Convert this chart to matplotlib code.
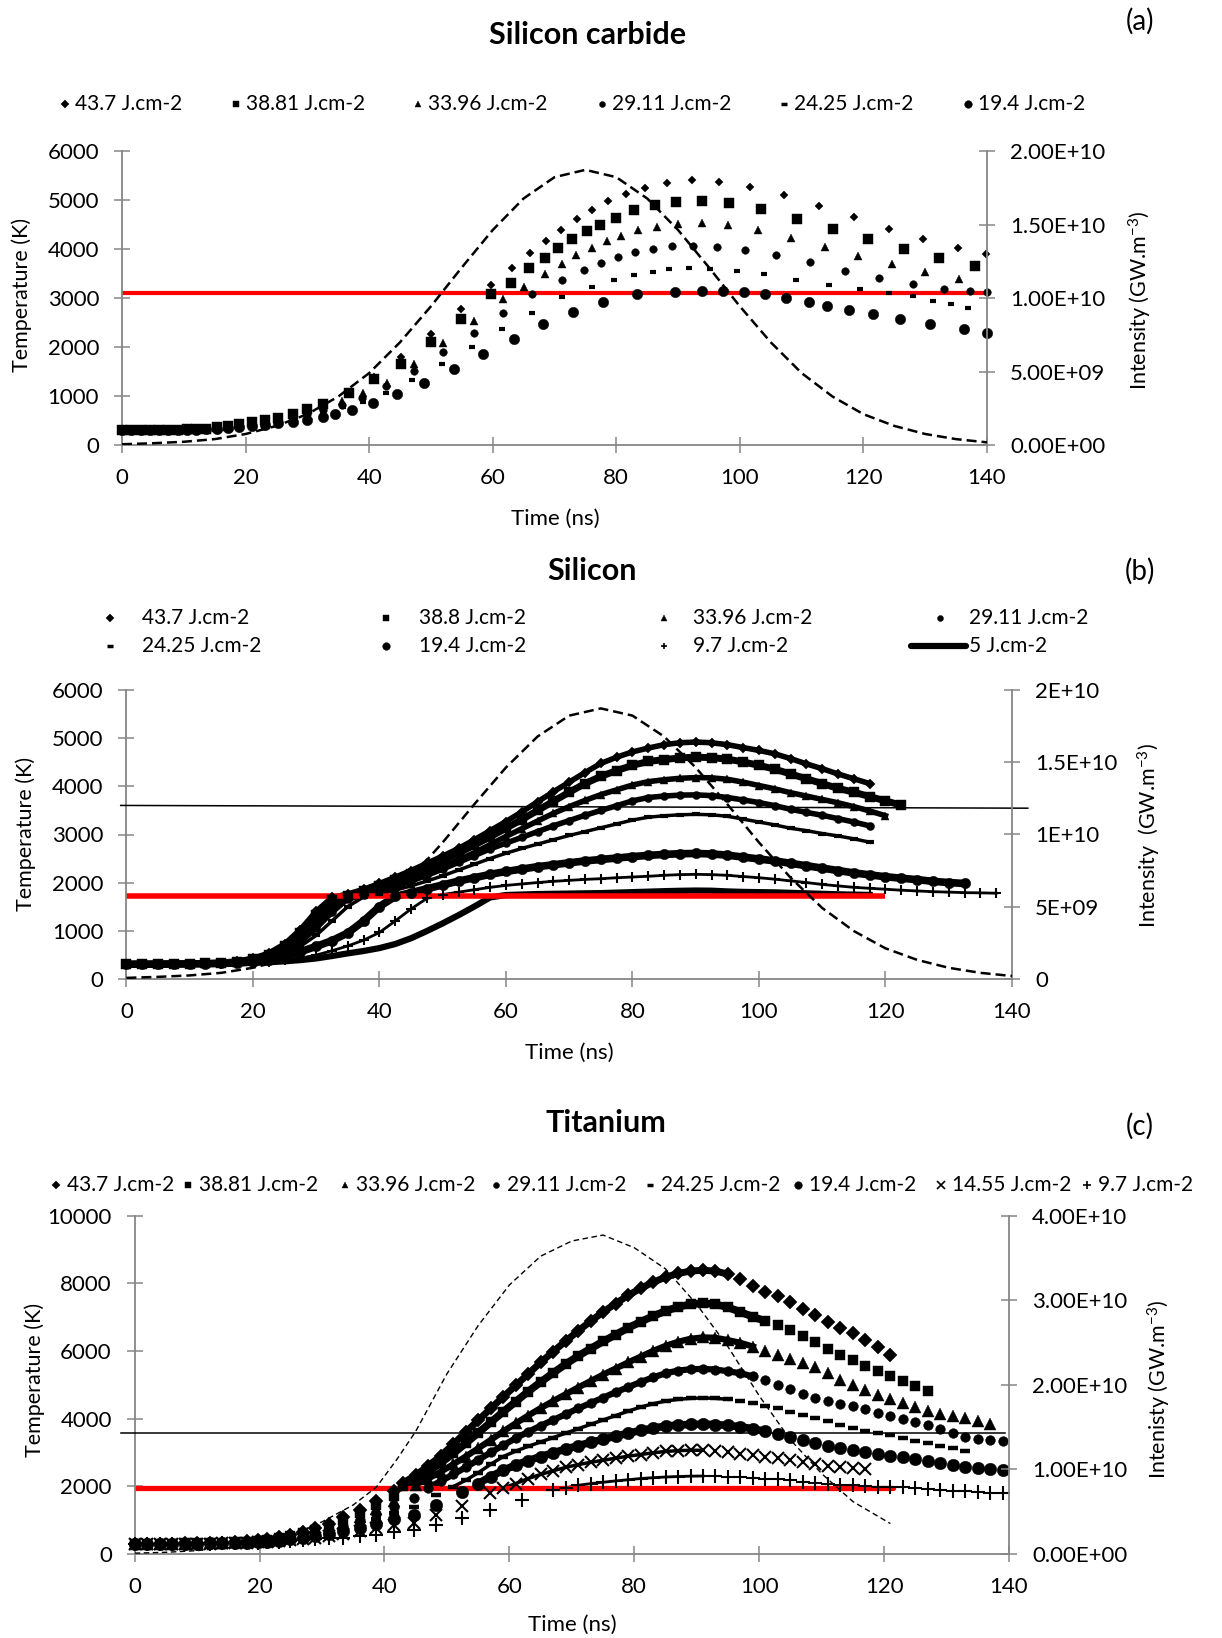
import matplotlib
matplotlib.use("Agg")
import matplotlib.pyplot as plt
import numpy as np
from matplotlib.lines import Line2D
from matplotlib.ticker import FixedLocator, FixedFormatter

plt.rcParams["font.family"] = ["Lato", "DejaVu Sans"]
plt.rcParams["mathtext.default"] = "regular"

W, H = 1222, 1638
GREY = "#868686"
RED = "#ff0000"

x_ticks = [0, 20, 40, 60, 80, 100, 120, 140]
fluence_labels = ["43.7 J.cm-2", "38.81 J.cm-2", "33.96 J.cm-2", "29.11 J.cm-2",
                  "24.25 J.cm-2", "19.4 J.cm-2", "14.55 J.cm-2", "9.7 J.cm-2"]
b_labels = ["43.7 J.cm-2", "38.8 J.cm-2", "33.96 J.cm-2", "29.11 J.cm-2",
            "24.25 J.cm-2", "19.4 J.cm-2", "9.7 J.cm-2", "5 J.cm-2"]

# laser pulse intensity (x1e10 GW.m-3), same pulse for SiC and Si
pulse_t = [0, 5, 10, 15, 20, 25, 30, 35, 40, 45, 50, 55, 60, 65, 70, 75,
           80, 85, 90, 95, 100, 105, 110, 115, 120, 125, 130, 135, 140]
pulse_si = [0.005, 0.012, 0.022, 0.040, 0.075, 0.13, 0.21, 0.33, 0.49, 0.70, 0.945, 1.21, 1.465, 1.68, 1.825, 1.875,
            1.825, 1.68, 1.465, 1.21, 0.945, 0.70, 0.49, 0.33, 0.21, 0.13, 0.075, 0.040, 0.018]
# titanium pulse
pulse_ti_t = [0, 5, 10, 15, 20, 25, 30, 35, 38.7, 42, 45, 50, 55, 60, 65, 70, 75,
              80, 85, 90, 95, 100, 105, 110, 115, 121]
pulse_ti = [0.01, 0.02, 0.04, 0.075, 0.13, 0.22, 0.38, 0.58, 0.79, 1.12, 1.45, 2.13, 2.70, 3.18, 3.52, 3.70, 3.77,
            3.62, 3.37, 2.95, 2.45, 1.87, 1.35, 0.95, 0.62, 0.36]

# ---------------- (a) silicon carbide ----------------
a_melt = 3100
a_yticks = [0, 1000, 2000, 3000, 4000, 5000, 6000]
a_rticks = [0, 5e9, 1e10, 1.5e10, 2e10]
a_rlabels = ["0.00E+00", "5.00E+09", "1.00E+10", "1.50E+10", "2.00E+10"]
a_t_early = [0, 1.5, 3, 4.5, 6, 7.5, 9, 10.5, 12, 13.6, 15.3, 17.1, 19, 21, 23.1, 25.3, 27.6, 30, 32.5]

a_d_early = [300, 301, 302, 304, 306, 309, 313, 318, 326, 337, 362, 398, 438, 478, 515, 560, 650, 750, 860]
a_d_t = [36.8, 40.8, 45.2, 50.0, 54.9, 59.7, 63.1, 66.1, 68.6, 71.1, 73.6, 76.1, 78.7, 81.5, 84.6, 88.2,
         92.2, 96.6, 101.6, 107.2, 112.8, 118.5, 124.1, 129.7, 135.3, 139.8]
a_d_T = [1080, 1400, 1793, 2270, 2782, 3273, 3627, 3920, 4173, 4398, 4616, 4814, 4984, 5134, 5264, 5366,
         5414, 5386, 5277, 5107, 4882, 4657, 4418, 4220, 4036, 3913]

a_s_early = [300, 301, 302, 304, 306, 309, 313, 318, 325, 335, 358, 392, 430, 470, 506, 548, 635, 735, 845]
a_s_t = [36.8, 40.8, 45.2, 50.0, 54.9, 59.7, 62.9, 65.9, 68.4, 70.6, 72.9, 75.2, 77.4, 80.0, 82.9, 86.2,
         89.7, 93.8, 98.3, 103.5, 109.2, 115.0, 120.7, 126.5, 132.2, 138.0]
a_s_T = [1060, 1343, 1657, 2107, 2570, 3082, 3320, 3614, 3818, 4023, 4207, 4377, 4507, 4650, 4800, 4902,
         4970, 4984, 4943, 4820, 4630, 4418, 4207, 4009, 3825, 3654]

a_tri_early = [300, 301, 302, 303, 305, 308, 312, 316, 322, 331, 350, 380, 415, 452, 488, 528, 600, 690, 790]
a_tri_t = [35.6, 39.0, 42.9, 47.2, 52.0, 56.9, 61.7, 65.1, 68.4, 71.2, 73.5, 76.0, 78.5, 80.8, 83.5, 86.6,
           90.0, 93.8, 98.1, 102.9, 108.3, 113.7, 119.2, 124.6, 130.0, 135.4]
a_tri_T = [900, 1057, 1261, 1657, 2093, 2536, 2980, 3239, 3491, 3702, 3880, 4036, 4180, 4275, 4391, 4466,
           4514, 4534, 4493, 4398, 4234, 4057, 3873, 3695, 3545, 3395]

a_c_early = [300, 300, 301, 303, 305, 307, 310, 314, 319, 327, 343, 368, 400, 433, 465, 500, 560, 640, 725]
a_c_t = [35.6, 38.9, 42.7, 47.2, 52.0, 56.9, 61.7, 66.4, 71.2, 74.8, 77.5, 80.3, 83.1, 85.9, 89.0, 92.4,
         96.3, 100.8, 105.8, 111.4, 117.0, 122.5, 128.1, 133.1, 137.3, 140.0]
a_c_T = [820, 960, 1207, 1520, 1895, 2298, 2700, 3095, 3368, 3573, 3723, 3845, 3941, 4016, 4064, 4077,
         4057, 3995, 3880, 3736, 3566, 3423, 3286, 3191, 3150, 3123]

a_dash_early = [300, 300, 301, 302, 304, 306, 309, 312, 317, 324, 337, 358, 385, 415, 445, 478, 525, 590, 665]
a_dash_t = [35.8, 39.0, 42.7, 47.0, 51.8, 56.7, 61.5, 66.3, 71.2, 76.1, 79.7, 82.9, 85.9, 88.6, 91.8, 95.2,
            99.5, 103.9, 109.1, 114.4, 119.4, 124.1, 128.1, 131.2, 134.2, 136.9]
a_dash_T = [770, 873, 1070, 1330, 1657, 1998, 2366, 2707, 3034, 3239, 3382, 3484, 3539, 3593, 3620, 3593,
            3566, 3491, 3382, 3280, 3191, 3116, 3055, 2952, 2884, 2809]

a_bc_early = [300, 300, 301, 302, 303, 305, 307, 310, 314, 320, 331, 348, 370, 393, 418, 443, 475, 520, 575]
a_bc_t = [34.5, 37.3, 40.7, 44.5, 48.9, 53.7, 58.5, 63.5, 68.2, 73.0, 77.9, 83.3, 89.5, 93.9, 97.3, 100.7,
          104.1, 107.5, 111.2, 114.1, 117.6, 121.5, 125.9, 130.8, 136.3, 140.0]
a_bc_T = [634, 716, 852, 1036, 1261, 1561, 1855, 2168, 2468, 2720, 2918, 3082, 3130, 3157, 3150, 3123,
          3089, 3014, 2925, 2843, 2761, 2673, 2570, 2468, 2366, 2298]

# ---------------- (b) silicon (2.5 ns steps from t = 0) ----------------
b_melt = 1710
b_boil = [3605, 3548]
b_boil_t = [-0.9, 142.5]
b_rticks = [0, 5e9, 1e10, 1.5e10, 2e10]
b_rlabels = ["0", "5E+09", "1E+10", "1.5E+10", "2E+10"]
b_d = [300, 300, 302, 305, 310, 318, 330, 360, 420, 530, 720, 1020, 1400, 1690, 1760, 1860, 1980, 2110, 2250,
       2400, 2550, 2710, 2890, 3080, 3270, 3470, 3680, 3890, 4090, 4290, 4480, 4610, 4720, 4800, 4870, 4910,
       4925, 4910, 4870, 4810, 4750, 4680, 4580, 4470, 4370, 4260, 4160, 4060]
b_s = [300, 300, 302, 305, 309, 316, 327, 352, 405, 500, 670, 950, 1320, 1640, 1730, 1820, 1930, 2050, 2180,
       2320, 2460, 2610, 2780, 2950, 3130, 3310, 3500, 3690, 3880, 4060, 4210, 4330, 4440, 4520, 4560, 4595,
       4610, 4600, 4570, 4510, 4440, 4360, 4260, 4160, 4060, 3960, 3880, 3790, 3700, 3610]
b_tri = [300, 300, 301, 304, 308, 314, 324, 345, 390, 470, 610, 850, 1180, 1530, 1710, 1790, 1880, 1980, 2090,
         2210, 2340, 2470, 2620, 2790, 2960, 3120, 3280, 3440, 3580, 3710, 3830, 3930, 4030, 4100, 4140, 4170,
         4185, 4180, 4150, 4090, 4020, 3950, 3870, 3800, 3730, 3660, 3580, 3490, 3390]
b_c = [300, 300, 301, 303, 307, 312, 321, 338, 375, 440, 560, 760, 1050, 1380, 1660, 1740, 1820, 1920, 2030,
       2150, 2280, 2420, 2560, 2700, 2820, 2940, 3060, 3180, 3290, 3400, 3500, 3600, 3700, 3770, 3800, 3820,
       3825, 3810, 3770, 3720, 3665, 3600, 3525, 3460, 3400, 3330, 3260, 3180]
b_dash = [300, 300, 301, 303, 306, 310, 318, 332, 362, 415, 510, 670, 900, 1200, 1500, 1700, 1760, 1840, 1930,
          2030, 2140, 2260, 2380, 2500, 2610, 2710, 2800, 2890, 2980, 3060, 3140, 3220, 3300, 3360, 3390, 3410,
          3420, 3410, 3380, 3320, 3260, 3200, 3130, 3080, 3020, 2970, 2910, 2840]
b_bc = [300, 300, 300, 302, 305, 309, 315, 327, 350, 395, 465, 560, 670, 790, 950, 1200, 1500, 1710, 1790,
        1870, 1950, 2030, 2100, 2170, 2230, 2280, 2330, 2370, 2410, 2450, 2480, 2510, 2540, 2565, 2585, 2600,
        2605, 2595, 2570, 2530, 2490, 2450, 2400, 2350, 2300, 2250, 2200, 2160, 2120, 2090, 2060, 2025, 2000, 1980]
b_plus = [300, 300, 300, 301, 303, 306, 310, 318, 330, 350, 380, 425, 490, 580, 680, 800, 960, 1200, 1450,
          1670, 1750, 1800, 1850, 1900, 1940, 1970, 2000, 2025, 2045, 2065, 2080, 2100, 2115, 2130, 2150, 2165,
          2170, 2165, 2150, 2125, 2100, 2070, 2035, 2000, 1960, 1930, 1900, 1880, 1860, 1840, 1825, 1810, 1800,
          1790, 1785, 1778]
b_line5 = [300, 305, 308, 310, 312, 315, 318, 320, 325, 340, 360, 385, 420, 470, 525, 575, 635, 720, 840,
           990, 1150, 1320, 1500, 1690, 1740, 1750, 1760, 1765, 1770, 1775, 1780, 1790, 1800, 1810, 1820, 1828,
           1833, 1830, 1815, 1805, 1800, 1795, 1785, 1775, 1765, 1755, 1748, 1742]

# ---------------- (c) titanium ----------------
c_melt = 1941
c_melt_t = [0, 121.5]
c_boil = 3575
c_boil_t = [-2.2, 139.4]
c_yticks = [0, 2000, 4000, 6000, 8000, 10000]
c_rticks = [0, 1e10, 2e10, 3e10, 4e10]
c_rlabels = ["0.00E+00", "1.00E+10", "2.00E+10", "3.00E+10", "4.00E+10"]
c_t_early = [0, 2, 4, 6, 8, 10, 12, 14, 16, 18, 19.8, 21.2, 23.1, 24.9, 26.9, 28.8, 31.1, 33.3, 36.0, 38.7, 41.5]

c_d_early = [300, 302, 305, 308, 312, 318, 326, 337, 352, 372, 400, 440, 500, 570, 660, 760, 900, 1090, 1310, 1555, 1850]
c_d_start = 43
c_d = [2100, 2330, 2600, 2900, 3240, 3600, 3950, 4300, 4640, 4980, 5320, 5660, 5980, 6290, 6590, 6880, 7150,
       7400, 7640, 7850, 8030, 8180, 8290, 8360, 8385, 8360, 8270, 8120, 7930, 7750, 7610, 7440, 7240, 7050,
       6870, 6690, 6520, 6330, 6110, 5880]

c_s_early = [300, 302, 304, 307, 311, 316, 323, 333, 346, 364, 390, 425, 475, 540, 620, 710, 830, 1000, 1210, 1440, 1720]
c_s_start = 43
c_s = [2000, 2200, 2430, 2690, 2970, 3270, 3580, 3890, 4200, 4500, 4800, 5080, 5350, 5610, 5850, 6070, 6280,
       6480, 6680, 6860, 7030, 7180, 7300, 7380, 7410, 7380, 7290, 7150, 7010, 6880, 6760, 6610, 6440, 6260,
       6060, 5890, 5740, 5570, 5410, 5260, 5110, 4970, 4830]

c_tri_early = [300, 301, 304, 306, 310, 314, 320, 329, 341, 357, 380, 410, 455, 510, 580, 660, 760, 910, 1100, 1320, 1580]
c_tri_start = 45
c_tri = [2050, 2230, 2430, 2650, 2880, 3120, 3370, 3620, 3860, 4090, 4310, 4520, 4720, 4920, 5110, 5300, 5480,
         5660, 5830, 6000, 6150, 6270, 6360, 6400, 6390, 6320, 6240, 6130, 6010, 5890, 5770, 5650, 5520, 5340,
         5150, 4990, 4840, 4700, 4580, 4450, 4330, 4230, 4150, 4090, 4020, 3930, 3850]

c_c_early = [300, 301, 303, 305, 308, 312, 317, 325, 335, 349, 370, 395, 435, 480, 540, 610, 700, 830, 990, 1180, 1400]
c_c_sparse_t = [44.7]
c_c_sparse_T = [1650]
c_c_start = 47
c_c = [1960, 2150, 2350, 2560, 2780, 3000, 3210, 3420, 3610, 3790, 3960, 4130, 4300, 4460, 4620, 4780, 4930,
       5080, 5220, 5340, 5420, 5460, 5470, 5450, 5400, 5340, 5250, 5130, 5000, 4870, 4740, 4620, 4520, 4440,
       4360, 4280, 4180, 4070, 3990, 3900, 3800, 3690, 3580, 3470, 3400, 3360, 3330]

c_dash_early = [300, 301, 303, 305, 307, 311, 315, 322, 331, 343, 360, 380, 415, 455, 505, 565, 640, 750, 880, 1030, 1200]
c_dash_sparse_t = [44.7, 48.3]
c_dash_sparse_T = [1400, 1745]
c_dash_start = 51
c_dash = [1990, 2180, 2400, 2650, 2880, 3040, 3180, 3310, 3440, 3570, 3700, 3830, 3960, 4090, 4220, 4340,
          4440, 4520, 4570, 4600, 4610, 4600, 4570, 4520, 4460, 4380, 4300, 4210, 4120, 4030, 3920, 3810,
          3710, 3640, 3570, 3510, 3430, 3340, 3270, 3190, 3120, 3040]

c_bc_early = [300, 301, 302, 304, 306, 309, 313, 319, 327, 338, 350, 368, 395, 430, 470, 520, 580, 670, 780, 900, 1030]
c_bc_sparse_t = [44.7, 48.3, 52.4]
c_bc_sparse_T = [1153, 1449, 1843]
c_bc_start = 55
c_bc = [2080, 2290, 2470, 2630, 2760, 2880, 2990, 3100, 3200, 3300, 3390, 3480, 3570, 3650, 3720, 3780, 3810,
        3830, 3835, 3825, 3800, 3760, 3700, 3620, 3540, 3460, 3380, 3290, 3200, 3130, 3070, 3020, 2960, 2910,
        2860, 2810, 2760, 2700, 2640, 2580, 2530, 2500, 2470]

c_x_early = [300, 300, 302, 303, 305, 307, 310, 315, 321, 330, 340, 355, 375, 405, 440, 480, 525, 590, 670, 760, 850]
c_x_sparse_t = [44.7, 48.3, 52.4, 56.9]
c_x_sparse_T = [907, 1153, 1419, 1794]
c_x_start = 59
c_x = [1950, 2080, 2230, 2350, 2460, 2560, 2640, 2710, 2770, 2830, 2890, 2940, 2990, 3030, 3055, 3065, 3065,
       3050, 3010, 2960, 2920, 2880, 2840, 2780, 2720, 2660, 2610, 2570, 2540, 2510]

c_plus_early = [300, 300, 301, 302, 303, 305, 308, 312, 317, 325, 335, 344, 360, 385, 410, 435, 460, 485, 522, 571, 640]
c_plus_sparse_t = [44.7, 48.3, 52.4, 56.9, 62.0, 67.0]
c_plus_sparse_T = [718, 866, 1063, 1301, 1597, 1880]
c_plus_start = 69
c_plus = [1960, 2030, 2080, 2120, 2160, 2195, 2230, 2255, 2275, 2290, 2300, 2305, 2300, 2290, 2275, 2255, 2230,
          2205, 2175, 2140, 2100, 2070, 2050, 2030, 2005, 1985, 1975, 1970, 1940, 1910, 1890, 1870, 1850, 1830,
          1805, 1790]

# ---------------- figure ----------------
fig = plt.figure(figsize=(W / 100, H / 100), dpi=100)


def axes_px(x0, y0, x1, y1):
    return fig.add_axes([x0 / W, 1 - y1 / H, (x1 - x0) / W, (y1 - y0) / H])


def ftext(x, y, s, **kw):
    kw.setdefault("ha", "center")
    kw.setdefault("va", "center")
    fig.text(x / W, 1 - y / H, s, **kw)


def style(ax, ax2, ymax, yticks, rmax, rticks, rlabels):
    ax.set_xlim(0, 140)
    ax.set_ylim(0, ymax)
    ax.set_xticks(x_ticks)
    ax.set_yticks(yticks)
    for s in ["top", "right"]:
        ax.spines[s].set_visible(False)
    for s in ["left", "bottom"]:
        ax.spines[s].set_color(GREY)
        ax.spines[s].set_linewidth(1.3)
    ax.tick_params(direction="inout", length=11, width=1.1, color=GREY, labelsize=16, pad=11)
    ax2.set_ylim(0, rmax)
    ax2.yaxis.set_major_locator(FixedLocator(rticks))
    ax2.yaxis.set_major_formatter(FixedFormatter(rlabels))
    for s in ["top", "left", "bottom"]:
        ax2.spines[s].set_visible(False)
    ax2.spines["right"].set_color(GREY)
    ax2.spines["right"].set_linewidth(1.3)
    ax2.tick_params(direction="inout", length=11, width=1.1, color=GREY, labelsize=16, pad=11)


def marks(ax, t, T, mk, z=3):
    ax.plot(t, T, ls="none", color="black", mec="black", zorder=z, clip_on=False, **mk)


def legend_mark(x, y, mk):
    fig.add_artist(Line2D([x / W], [1 - y / H], transform=fig.transFigure, ls="none",
                          color="black", mec="black", **mk))


# marker styles
mk_d = dict(marker="D", mew=0.3)
mk_s = dict(marker="s", mew=0.3)
mk_t = dict(marker="^", mew=0.3)
mk_c = dict(marker="o", mew=0.3)
mk_dash = dict(marker="_")
mk_x = dict(marker="x")
mk_p = dict(marker="+")

# ===== (a) =====
ax_a = axes_px(122, 151.5, 987, 445)
ax_a2 = ax_a.twinx()
style(ax_a, ax_a2, 6000, a_yticks, 2e10, a_rticks, a_rlabels)
ax_a.plot([0, 140], [a_melt, a_melt], color=RED, lw=3, zorder=2.5, solid_capstyle="butt")
for early, tl, Tl, mk in [
    (a_d_early, a_d_t, a_d_T, dict(mk_d, ms=4.5)),
    (a_s_early, a_s_t, a_s_T, dict(mk_s, ms=6.5)),
    (a_tri_early, a_tri_t, a_tri_T, dict(mk_t, ms=5.8)),
    (a_c_early, a_c_t, a_c_T, dict(mk_c, ms=5.5)),
    (a_dash_early, a_dash_t, a_dash_T, dict(mk_dash, ms=5, mew=3)),
    (a_bc_early, a_bc_t, a_bc_T, dict(mk_c, ms=7.5)),
]:
    marks(ax_a, a_t_early + tl, early + Tl, mk)
ax_a2.plot(pulse_t, np.array(pulse_si) * 1e10, color="black", lw=1.8, ls=(0, (4, 2)), zorder=4)

ftext(588, 34.5, "Silicon carbide", fontsize=22, fontweight="bold")
ftext(1140, 21, "(a)", fontsize=20)
ftext(22, 295, "Temperature (K)", fontsize=15.5, rotation=90)
ftext(1140, 300, "Intensity (GW.m$^{-3}$)", fontsize=15.5, rotation=90)
ftext(555, 519, "Time (ns)", fontsize=16)
a_leg_x = [65, 236, 418, 602, 784, 968]
a_leg_mk = [dict(mk_d, ms=3.6), dict(mk_s, ms=5), dict(mk_t, ms=4.5), dict(mk_c, ms=4.3),
            dict(mk_dash, ms=4, mew=2.5), dict(mk_c, ms=5.5)]
for x, mk, lab in zip(a_leg_x, a_leg_mk, fluence_labels[:6]):
    legend_mark(x, 104, mk)
    ftext(x + 10, 104, lab, fontsize=15, ha="left")

# ===== (b) =====
ax_b = axes_px(126.4, 690.4, 1012, 978.6)
ax_b2 = ax_b.twinx()
style(ax_b, ax_b2, 6000, a_yticks, 2e10, b_rticks, b_rlabels)
ax_b.plot([0, 120], [b_melt, b_melt], color=RED, lw=4, zorder=2.5, solid_capstyle="butt")
ax_b.plot(b_boil_t, b_boil, color="black", lw=1.1, zorder=4, clip_on=False)
for vals, mk, lw in [
    (b_d, dict(mk_d, ms=5.2), 4.0),
    (b_s, dict(mk_s, ms=6.5), 5.0),
    (b_tri, dict(mk_t, ms=6.2), 4.0),
    (b_c, dict(mk_c, ms=5.8), 4.0),
    (b_dash, dict(mk_dash, ms=5.5, mew=3), 2.5),
    (b_bc, dict(mk_c, ms=7.5), 5.5),
    (b_plus, dict(mk_p, ms=7, mew=1.5), 2.0),
]:
    tb = 2.5 * np.arange(len(vals))
    ax_b.plot(tb, vals, color="black", lw=lw, zorder=2)
    marks(ax_b, tb, vals, mk)
ax_b.plot(2.5 * np.arange(len(b_line5)), b_line5, color="black", lw=4.5, zorder=2)
ax_b2.plot(pulse_t, np.array(pulse_si) * 1e10, color="black", lw=1.8, ls=(0, (4, 2)), zorder=4)

ftext(592, 571, "Silicon", fontsize=22, fontweight="bold")
ftext(1140, 571, "(b)", fontsize=20)
ftext(26, 834, "Temperature (K)", fontsize=15.5, rotation=90)
ftext(1149, 836, "Intensity  (GW.m$^{-3}$)", fontsize=15.5, rotation=90)
ftext(569, 1053, "Time (ns)", fontsize=16)
b_leg_x = [110, 386, 664, 940, 110, 386, 664]
b_leg_y = [618, 618, 618, 618, 646.5, 646.5, 646.5]
b_leg_mk = [dict(mk_d, ms=3.6), dict(mk_s, ms=5), dict(mk_t, ms=4.5), dict(mk_c, ms=4.3),
            dict(mk_dash, ms=4, mew=2.5), dict(mk_c, ms=5.5), dict(mk_p, ms=5, mew=1.2)]
b_text_x = [142, 419, 693, 969, 142, 419, 693, 969]
for x, y, mk in zip(b_leg_x, b_leg_y, b_leg_mk):
    legend_mark(x, y, mk)
for x, y, lab in zip(b_text_x, b_leg_y + [646.5], b_labels):
    ftext(x, y, lab, fontsize=15, ha="left")
fig.add_artist(Line2D([911 / W, 966 / W], [1 - 646.5 / H] * 2, transform=fig.transFigure,
                      color="black", lw=4.5, solid_capstyle="round"))

# ===== (c) =====
ax_c = axes_px(134.7, 1215.6, 1009, 1554)
ax_c2 = ax_c.twinx()
style(ax_c, ax_c2, 10000, c_yticks, 4e10, c_rticks, c_rlabels)
ax_c.plot(c_melt_t, [c_melt, c_melt], color=RED, lw=3.8, zorder=2.5, solid_capstyle="round")
ax_c.plot(c_boil_t, [c_boil, c_boil], color="black", lw=1.1, zorder=4, clip_on=False)
for early, st, sT, start, vals, mk, lw, tcut in [
    (c_d_early, [], [], c_d_start, c_d, dict(mk_d, ms=7), 5.0, 96),
    (c_s_early, [], [], c_s_start, c_s, dict(mk_s, ms=7.5), 5.5, 101),
    (c_tri_early, [], [], c_tri_start, c_tri, dict(mk_t, ms=8), 4.5, 99),
    (c_c_early, c_c_sparse_t, c_c_sparse_T, c_c_start, c_c, dict(mk_c, ms=7), 4.5, 99),
    (c_dash_early, c_dash_sparse_t, c_dash_sparse_T, c_dash_start, c_dash, dict(mk_dash, ms=6.5, mew=3.2), 2.5, 95),
    (c_bc_early, c_bc_sparse_t, c_bc_sparse_T, c_bc_start, c_bc, dict(mk_c, ms=9), 5.5, 101),
    (c_x_early, c_x_sparse_t, c_x_sparse_T, c_x_start, c_x, dict(mk_x, ms=9, mew=1.5), 2.5, 91),
    (c_plus_early, c_plus_sparse_t, c_plus_sparse_T, c_plus_start, c_plus, dict(mk_p, ms=9.5, mew=1.5), 2.0, 91),
]:
    td = start + 2 * np.arange(len(vals))
    keep = td <= tcut
    ax_c.plot(td[keep], np.array(vals)[keep], color="black", lw=lw, zorder=2)
    t_all = np.concatenate([c_t_early, st, td])
    T_all = np.concatenate([early, sT, vals])
    marks(ax_c, t_all, T_all, mk)
ax_c2.plot(pulse_ti_t, np.array(pulse_ti) * 1e10, color="black", lw=1.0, ls=(0, (4, 2.5)), zorder=4)

ftext(606, 1123, "Titanium", fontsize=22, fontweight="bold")
ftext(1140, 1126, "(c)", fontsize=20)
ftext(34.5, 1380, "Temperature (K)", fontsize=15.5, rotation=90)
ftext(1159, 1389, "Intenisty (GW.m$^{-3}$)", fontsize=15.5, rotation=90)
ftext(572, 1625, "Time (ns)", fontsize=16)
c_leg_x = [56, 188, 345, 496, 650, 798, 941, 1087]
c_leg_mk = [dict(mk_d, ms=3.6), dict(mk_s, ms=5), dict(mk_t, ms=4.5), dict(mk_c, ms=4.3),
            dict(mk_dash, ms=4, mew=2.5), dict(mk_c, ms=5.5), dict(mk_x, ms=6, mew=1.2), dict(mk_p, ms=6, mew=1.2)]
for x, mk, lab in zip(c_leg_x, c_leg_mk, fluence_labels):
    legend_mark(x, 1185, mk)
    ftext(x + 11, 1185, lab, fontsize=15, ha="left")

fig.savefig("out.png", dpi=100)
